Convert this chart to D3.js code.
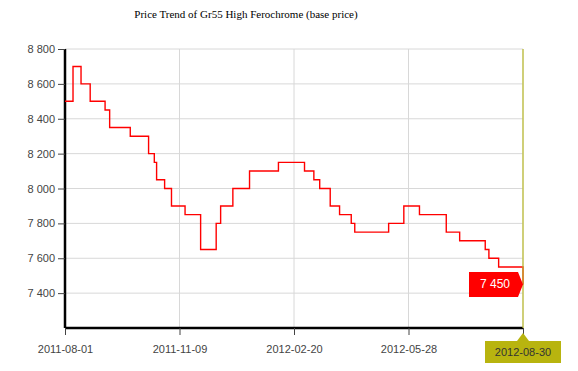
<!DOCTYPE html>
<html>
<head>
<meta charset="utf-8">
<script src="https://cdn.jsdelivr.net/npm/d3@7"></script>
<style>
  body { margin: 0; background: #fff; }
  svg { display: block; font-family: "Liberation Sans", Arial, sans-serif; }
</style>
</head>
<body>
<svg width="578" height="371"></svg>
<script>
// Price data (step changes)
const dates = ["2011-08-01","2011-08-08","2011-08-15","2011-08-23","2011-09-05","2011-09-09",
  "2011-09-27","2011-10-13","2011-10-18","2011-10-20","2011-10-27","2011-11-02","2011-11-14",
  "2011-11-28","2011-12-12","2011-12-16","2011-12-27","2012-01-11","2012-02-06","2012-02-29",
  "2012-03-08","2012-03-13","2012-03-22","2012-03-30","2012-04-09","2012-04-12","2012-05-11",
  "2012-05-24","2012-06-06","2012-06-28","2012-07-09","2012-07-30","2012-08-02","2012-08-10",
  "2012-08-29","2012-08-30"];
const prices = [8500,8700,8600,8500,8450,8350,8300,8200,8150,8050,8000,7900,7850,7650,7800,7900,
  8000,8100,8150,8100,8050,8000,7900,7850,7800,7750,7800,7900,7850,7750,7700,7650,7600,7550,
  7550,7450];
const xTickDates = ["2011-08-01","2011-11-09","2012-02-20","2012-05-28","2012-08-30"];
const yTicks = [7400,7600,7800,8000,8200,8400,8600,8800];
const title = "Price Trend of Gr55 High Ferochrome (base price)";

const svg = d3.select("svg");
const parse = d3.timeParse("%Y-%m-%d");
const data = dates.map((d, i) => ({date: parse(d), price: prices[i]}));
const tickDates = xTickDates.map(parse);

const plotLeft = 65, plotRight = 523, plotTop = 49, plotBottom = 328;

// ordinal-like axis: ticks evenly spaced
const x = d3.scaleTime()
  .domain(tickDates)
  .range(tickDates.map((d, i) => plotLeft + i * (plotRight - plotLeft) / (tickDates.length - 1)));

const y = d3.scaleLinear()
  .domain([7200, 8800])
  .range([plotBottom, plotTop]);

const fmt = d3.formatLocale({decimal: ".", thousands: " ", grouping: [3], currency: ["", ""]}).format(",");

// Title
svg.append("text")
  .attr("x", 246)
  .attr("y", 18)
  .attr("text-anchor", "middle")
  .style("font-family", "'Liberation Serif', 'Times New Roman', serif")
  .style("font-size", "11px")
  .text(title);

// Gridlines
svg.append("g")
  .selectAll("line")
  .data(yTicks)
  .join("line")
  .attr("x1", plotLeft).attr("x2", plotRight)
  .attr("y1", d => y(d)).attr("y2", d => y(d))
  .attr("stroke", "#d8d8d8");

svg.append("g")
  .selectAll("line")
  .data(tickDates)
  .join("line")
  .attr("x1", d => x(d)).attr("x2", d => x(d))
  .attr("y1", plotTop).attr("y2", plotBottom)
  .attr("stroke", "#d8d8d8");

// Y axis
const yAxis = svg.append("g")
  .attr("transform", `translate(${plotLeft},0)`)
  .call(d3.axisLeft(y).tickValues(yTicks).tickFormat(fmt).tickSize(7).tickPadding(3));
yAxis.select(".domain").attr("stroke", "#000").attr("stroke-width", 2.5)
  .attr("d", `M0,${plotTop}V${plotBottom}`);
yAxis.selectAll(".tick line").attr("stroke", "#444");
yAxis.selectAll(".tick text").attr("fill", "#444").style("font-size", "11px")
  .style("font-family", "'Liberation Sans', Arial, sans-serif");

// X axis
const xAxis = svg.append("g")
  .attr("transform", `translate(0,${plotBottom})`)
  .call(d3.axisBottom(x).tickValues(tickDates).tickFormat(d3.timeFormat("%Y-%m-%d")).tickSize(7).tickPadding(10));
xAxis.select(".domain").attr("stroke", "#000").attr("stroke-width", 2.5)
  .attr("d", `M${plotLeft},0H${plotRight}`);
xAxis.selectAll(".tick line").attr("stroke", "#444");
xAxis.selectAll(".tick text").attr("fill", "#444").style("font-size", "11px")
  .style("font-family", "'Liberation Sans', Arial, sans-serif");
xAxis.selectAll(".tick").filter((d, i) => i === tickDates.length - 1).select("text").remove();

// Price line
svg.append("path")
  .datum(data)
  .attr("fill", "none")
  .attr("stroke", "#f00")
  .attr("stroke-width", 1.4)
  .attr("d", d3.line().x(d => x(d.date)).y(d => y(d.price)).curve(d3.curveStepAfter));

// Crosshair at last point
const last = data[data.length - 1];
const lx = x(last.date), ly = y(last.price);
svg.append("line")
  .attr("x1", lx).attr("x2", lx)
  .attr("y1", plotTop).attr("y2", plotBottom)
  .attr("stroke", "#bcbc2c")
  .attr("stroke-width", 1.2);

// Value flag
svg.append("path")
  .attr("d", `M${lx - 54},${ly - 12.5}H${lx - 5}L${lx},${ly}L${lx - 5},${ly + 12.5}H${lx - 54}Z`)
  .attr("fill", "#f00");
svg.append("text")
  .attr("x", lx - 28)
  .attr("y", ly + 4)
  .attr("text-anchor", "middle")
  .attr("fill", "#fff")
  .style("font-size", "12px")
  .text(fmt(last.price));

// Date flag under last tick
svg.append("path")
  .attr("d", `M${lx - 38},${plotBottom + 13}H${lx - 6}L${lx},${plotBottom + 5}L${lx + 6},${plotBottom + 13}H${lx + 38}V${plotBottom + 35}H${lx - 38}Z`)
  .attr("fill", "#b8b40f");
svg.append("text")
  .attr("x", lx)
  .attr("y", plotBottom + 28)
  .attr("text-anchor", "middle")
  .attr("fill", "#333")
  .style("font-size", "11px")
  .text(d3.timeFormat("%Y-%m-%d")(last.date));
</script>
</body>
</html>
